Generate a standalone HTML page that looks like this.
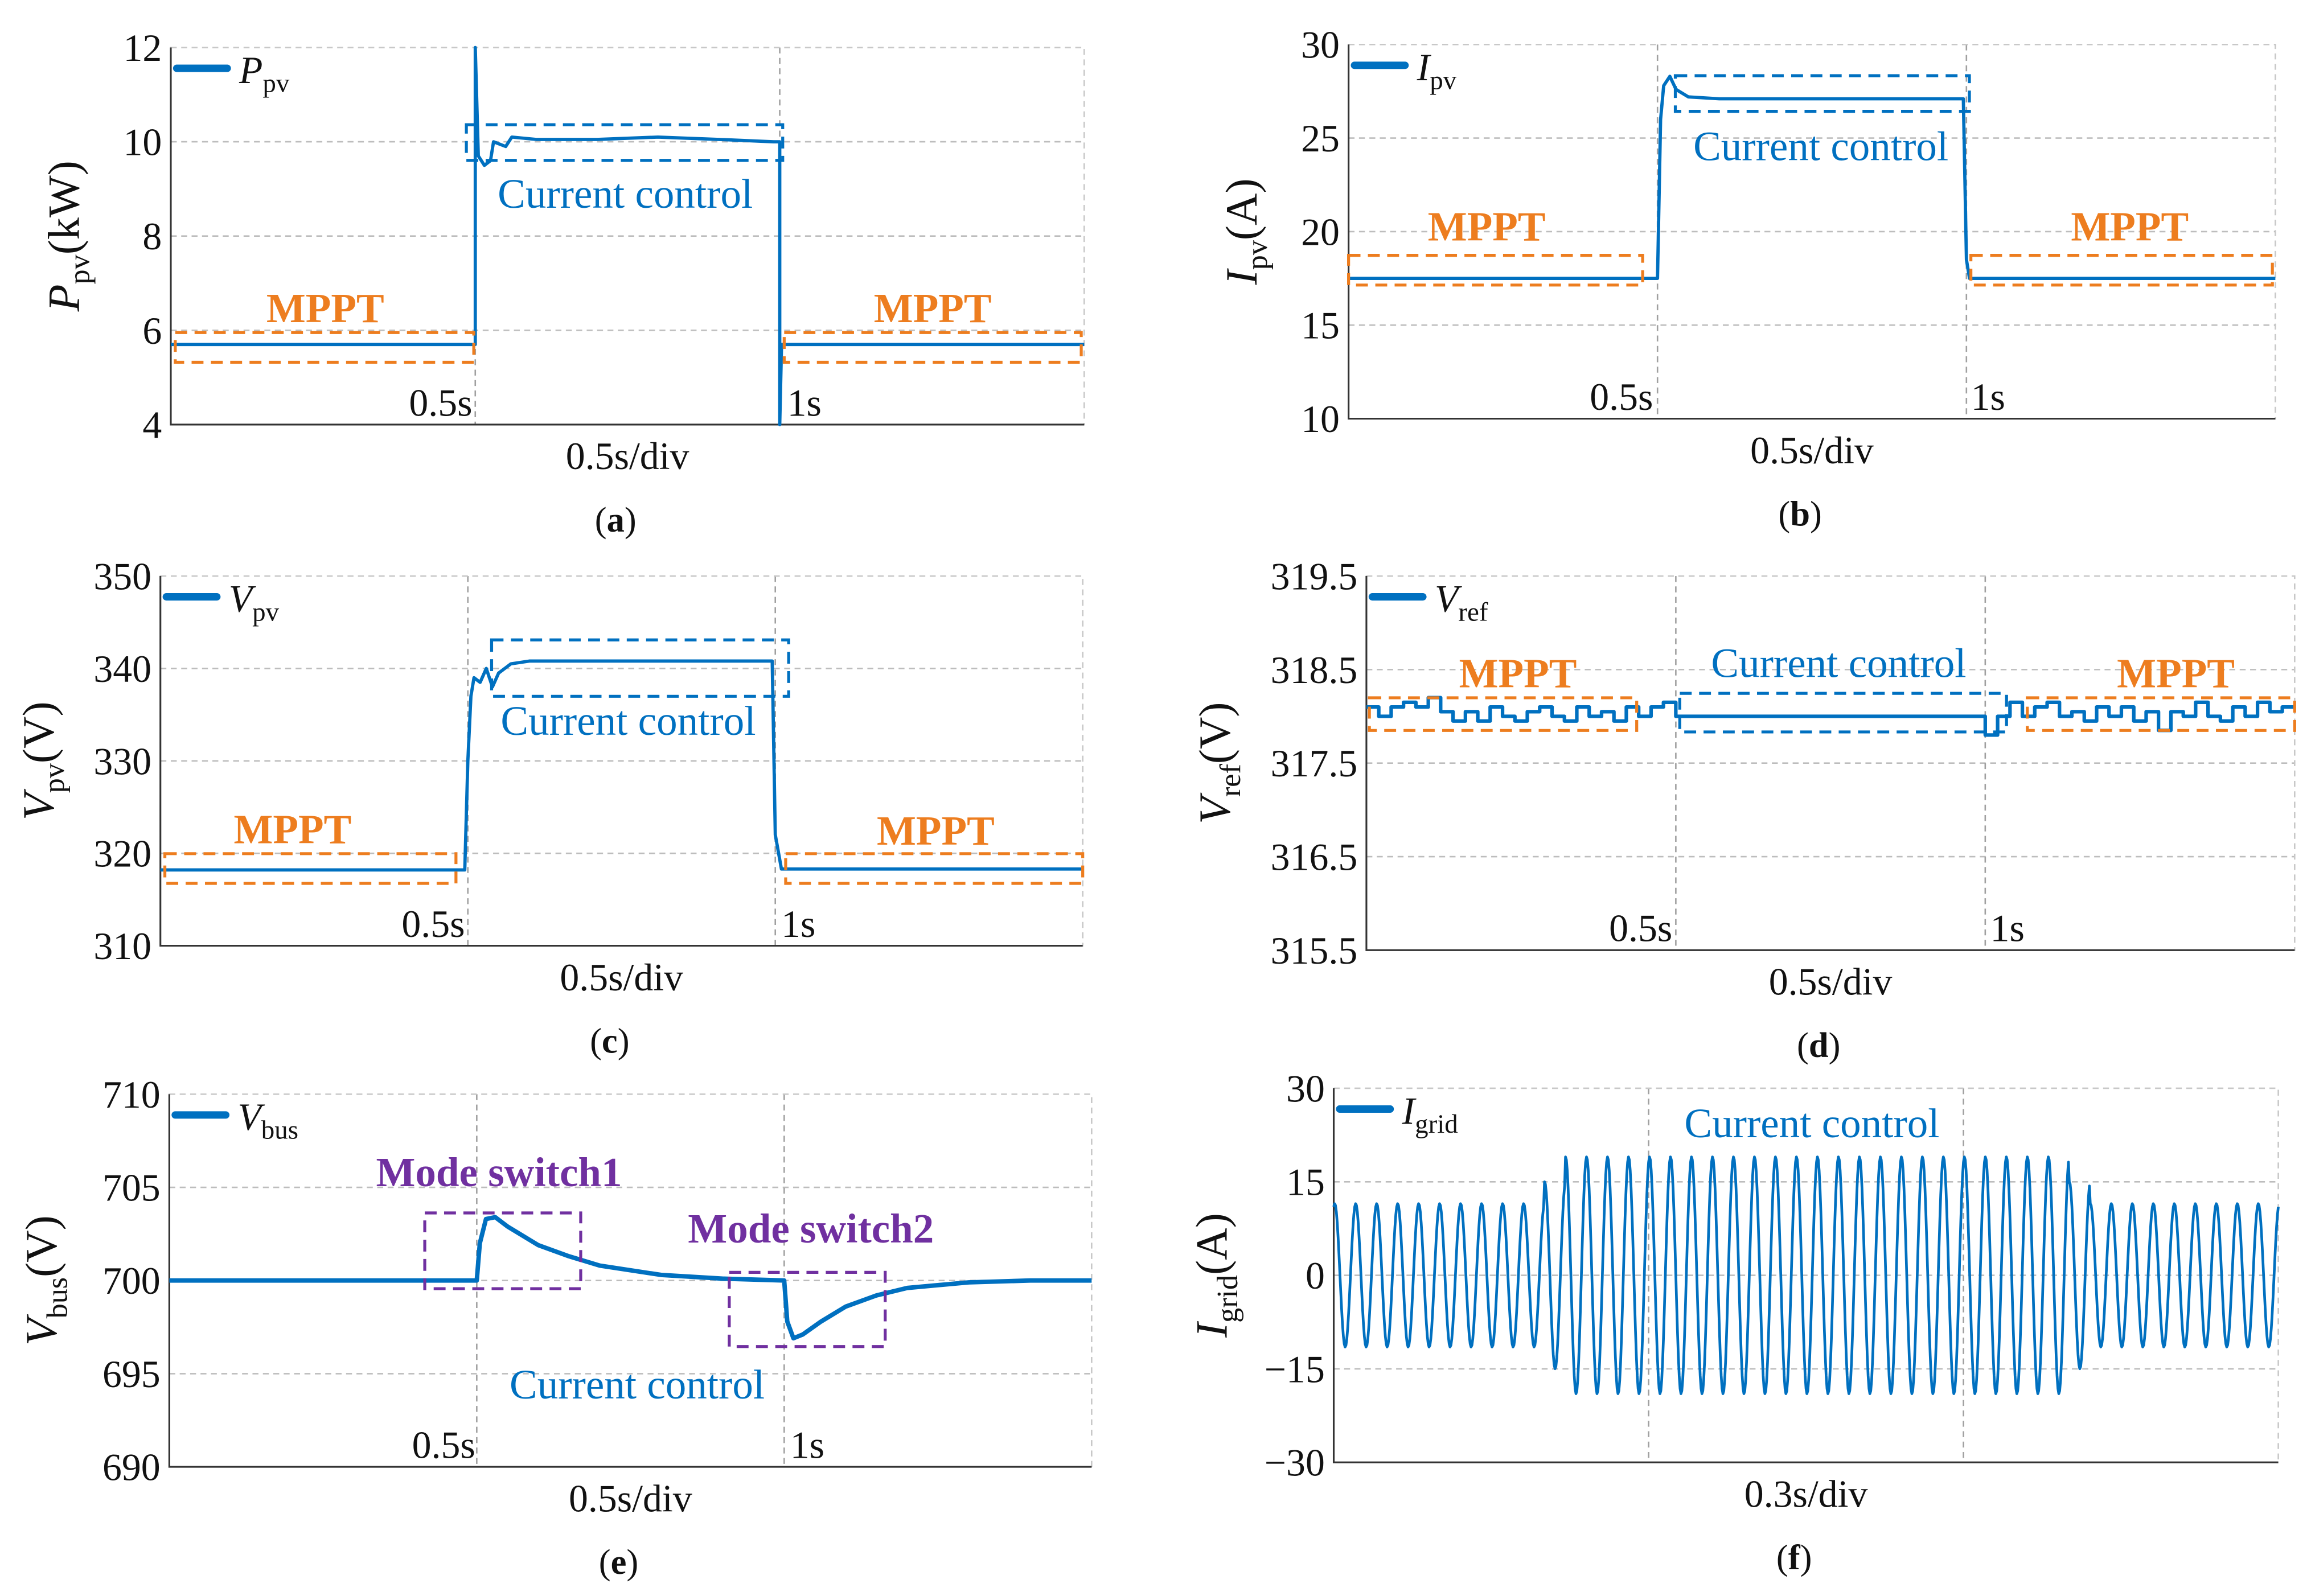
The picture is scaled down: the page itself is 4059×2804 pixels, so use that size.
<!DOCTYPE html>
<html><head><meta charset="utf-8"><style>
html,body{margin:0;padding:0;background:#fff;}
svg{display:block;font-family:"Liberation Serif",serif;}
</style></head><body>
<svg id="fig" width="4059" height="2804" viewBox="0 0 1556 1075" preserveAspectRatio="none" xmlns="http://www.w3.org/2000/svg"></svg>
<script>
// ---- data arrays ----
const aT=[0,0.5,0.5,0.505,0.515,0.525,0.53,0.55,0.56,0.6,0.7,0.8,0.9,0.99,1.0,1.0,1.003,1.5];
const aV=[5.7,5.7,12,9.7,9.5,9.6,10,9.9,10.1,10.05,10.05,10.1,10.05,10,10,4,5.7,5.7];
const bT=[0,0.5,0.505,0.51,0.52,0.53,0.55,0.6,0.8,0.995,1.0,1.005,1.5];
const bV=[17.5,17.5,26,27.8,28.3,27.6,27.2,27.1,27.1,27.1,18.5,17.5,17.5];
const cT=[0,0.495,0.5,0.505,0.51,0.52,0.53,0.54,0.55,0.57,0.6,0.8,0.995,1.0,1.01,1.5];
const cV=[318.2,318.2,330,337,339,338.5,340,338,339.5,340.5,340.8,340.8,340.8,322,318.3,318.3];
const dT=[0,0.02,0.04,0.06,0.08,0.1,0.12,0.14,0.16,0.18,0.2,0.22,0.24,0.26,0.28,0.3,0.32,0.34,0.36,0.38,0.4,0.42,0.44,0.46,0.48,0.5,1.0,1.02,1.04,1.06,1.08,1.1,1.12,1.14,1.16,1.18,1.2,1.22,1.24,1.26,1.28,1.3,1.32,1.34,1.36,1.38,1.4,1.42,1.44,1.46,1.48,1.5];
const dV=[318.1,318.0,318.1,318.15,318.1,318.2,318.05,317.95,318.05,317.95,318.1,318.0,317.95,318.05,318.1,318.0,317.95,318.1,318.0,318.05,317.95,318.1,318.0,318.1,318.15,318.0,317.8,318.0,318.15,318.0,318.1,318.15,318.0,318.05,317.95,318.1,318.0,318.1,317.95,318.05,317.85,318.05,318.0,318.15,318.0,317.95,318.1,318.0,318.15,318.05,318.1,318.1];
const eT=[0,0.5,0.505,0.515,0.53,0.55,0.6,0.65,0.7,0.8,0.9,1.0,1.005,1.015,1.03,1.06,1.1,1.15,1.2,1.3,1.4,1.5];
const eV=[700,700,702,703.3,703.4,702.9,701.9,701.3,700.8,700.3,700.1,700,697.8,696.9,697.1,697.8,698.6,699.2,699.6,699.9,700,700];
const fAmp=[11.5,11.5,11.5,11.5,11.5,11.5,11.5,11.5,11.5,11.5,15,19,19,19,19,19,19,19,19,19,19,19,19,19,19,19,19,19,19,19,19,19,19,19,19,15,11.5,11.5,11.5,11.5,11.5,11.5,11.5,11.5,11.5];

const svg=document.getElementById('fig');
const NS='http://www.w3.org/2000/svg';
const BLUE='#0070c0',OR='#ed7d1f',PUR='#7030a0';
function el(tag,attrs,parent){const e=document.createElementNS(NS,tag);for(const k in attrs)e.setAttribute(k,attrs[k]);(parent||svg).appendChild(e);return e;}
function txt(x,y,s,size,attrs,parent){const t=el('text',Object.assign({x:x,y:y,'font-size':size},attrs||{}),parent);t.textContent=s;return t;}

function panel(c){
  const g=el('g',{});
  
  
  const X=t=>c.x0+(t-c.tmin)/(c.tmax-c.tmin)*(c.x1-c.x0);
  const Y=v=>c.y1-(v-c.ymin)/(c.ymax-c.ymin)*(c.y1-c.y0);
  c.yticks.forEach((v,i)=>{
    const y=Y(v);
    if(i>0&&i<c.yticks.length-1){const l=el('line',{x1:c.x0,x2:c.x1,y1:y,y2:y,stroke:'#bdbdbd','stroke-width':1,'stroke-dasharray':'4,3'},g);}
    const t=txt(c.x0-6,y+9,c.ylabels[i],26,{'text-anchor':'end',fill:'#111'},g);
    
  });
  c.xgrid.forEach(tv=>{const x=X(tv);const l=el('line',{x1:x,x2:x,y1:c.y0,y2:c.y1,stroke:'#a0a0a0','stroke-width':1,'stroke-dasharray':'4,3'},g);});
  el('rect',{x:c.x0,y:c.y0,width:c.x1-c.x0,height:c.y1-c.y0,fill:'none',stroke:'#c8c8c8','stroke-width':1,'stroke-dasharray':'4,3'},g);
  const ax=el('path',{d:`M${c.x0},${c.y0}V${c.y1}H${c.x1}`,fill:'none',stroke:'#333','stroke-width':1.2},g);
  
  let d='';
  if(c.pts){c.pts.forEach((p,i)=>{d+=(i?'L':'M')+X(p[0]).toFixed(2)+','+Y(p[1]).toFixed(2);});}
  const s=el('path',{d:d||c.d(X,Y),fill:'none',stroke:BLUE,'stroke-width':c.sw||2.2,'stroke-linejoin':'round'},g);
  
  const lg=el('g',{},g);
  el('line',{x1:c.x0+4,x2:c.x0+38,y1:c.y0+14,y2:c.y0+14,stroke:BLUE,'stroke-width':5,'stroke-linecap':'round'},lg);
  const lt=el('text',{x:c.x0+46,y:c.y0+24,'font-size':26,'font-style':'italic',fill:'#111'},lg);
  lt.innerHTML=`${c.sym}<tspan font-style="normal" font-size="18" dy="6">${c.sub}</tspan>`;
  const cy=(c.y0+c.y1)/2,lx=c.x0-(c.lo||62);
  const yl=el('text',{x:0,y:0,'font-size':30,'text-anchor':'middle',transform:`translate(${lx},${cy}) rotate(-90)`,fill:'#111'},g);
  yl.innerHTML=`<tspan font-style="italic">${c.sym}</tspan><tspan font-size="20" dy="7">${c.sub}</tspan><tspan dy="-7">(${c.unit})</tspan>`;
  
  c.xl.forEach(o=>{const t=txt(o[0],c.y1-6,o[1],26,{'text-anchor':o[2],fill:'#111'},g);});
  const xt=txt((c.x0+c.x1)/2,c.y1+30,c.div,26,{'text-anchor':'middle',fill:'#111'},g);
  
  const cap=el('text',{x:(c.x0+c.x1)/2-8,y:c.y1+72,'font-size':24,'text-anchor':'middle',fill:'#111'},g);
  cap.innerHTML=`(<tspan font-weight="bold">${c.cap}</tspan>)`;
  
  (c.boxes||[]).forEach(b=>{const r=el('rect',{x:b[0],y:b[1],width:b[2],height:b[3],fill:'none',stroke:b[4],'stroke-width':2,'stroke-dasharray':'8,5'},g);});
  (c.notes||[]).forEach(n=>{const t=txt(n[0],n[1],n[2],28,{'text-anchor':'middle',fill:n[3],'font-weight':n[4]||'normal'},g);});
  return c;
}
const zip=(t,v)=>t.map((x,i)=>[x,v[i]]);

panel({name:'panel-a-ppv',x0:115,x1:730,y0:32,y1:286,tmin:0,tmax:1.5,ymin:4,ymax:12,yticks:[4,6,8,10,12],ylabels:['4','6','8','10','12'],xgrid:[0.5,1.0],pts:zip(aT,aV),sym:'P',sub:'pv',unit:'kW',cap:'a',div:'0.5s/div',
  xl:[[318,'0.5s','end'],[530,'1s','start']],
  boxes:[[118,224,201,20,OR],[528,224,200,20,OR],[314,84,213,24,BLUE]],
  notes:[[219,217,'MPPT',OR,'bold'],[628,217,'MPPT',OR,'bold'],[421,140,'Current control',BLUE]]});
panel({name:'panel-b-ipv',x0:908,x1:1532,y0:30,y1:282,tmin:0,tmax:1.5,ymin:10,ymax:30,yticks:[10,15,20,25,30],ylabels:['10','15','20','25','30'],xgrid:[0.5,1.0],pts:zip(bT,bV),sym:'I',sub:'pv',unit:'A',cap:'b',div:'0.5s/div',
  xl:[[1113,'0.5s','end'],[1327,'1s','start']],
  boxes:[[908,172,198,20,OR],[1327,172,203,20,OR],[1128,51,198,24,BLUE]],
  notes:[[1001,162,'MPPT',OR,'bold'],[1434,162,'MPPT',OR,'bold'],[1226,108,'Current control',BLUE]]});
panel({name:'panel-c-vpv',x0:108,x1:729,y0:388,y1:637,tmin:0,tmax:1.5,ymin:310,ymax:350,yticks:[310,320,330,340,350],ylabels:['310','320','330','340','350'],xgrid:[0.5,1.0],pts:zip(cT,cV),sym:'V',sub:'pv',unit:'V',cap:'c',div:'0.5s/div',lo:72,
  xl:[[313,'0.5s','end'],[526,'1s','start']],
  boxes:[[111,575,196,20,OR],[529,575,200,20,OR],[331,431,200,38,BLUE]],
  notes:[[197,568,'MPPT',OR,'bold'],[630,569,'MPPT',OR,'bold'],[423,495,'Current control',BLUE]]});
panel({name:'panel-d-vref',x0:920,x1:1545,y0:388,y1:640,tmin:0,tmax:1.5,ymin:315.5,ymax:319.5,yticks:[315.5,316.5,317.5,318.5,319.5],ylabels:['315.5','316.5','317.5','318.5','319.5'],xgrid:[0.5,1.0],sw:2.4,lo:92,
  d:(X,Y)=>{let s='';dT.forEach((t,i)=>{s+=(i?'H'+X(t).toFixed(2)+'V':'M'+X(t).toFixed(2)+',')+Y(dV[i]).toFixed(2);});return s;},
  sym:'V',sub:'ref',unit:'V',cap:'d',div:'0.5s/div',
  xl:[[1126,'0.5s','end'],[1340,'1s','start']],
  boxes:[[922,470,180,22,OR],[1365,470,180,22,OR],[1131,467,220,26,BLUE]],
  notes:[[1022,463,'MPPT',OR,'bold'],[1465,463,'MPPT',OR,'bold'],[1238,456,'Current control',BLUE]]});
panel({name:'panel-e-vbus',x0:114,x1:735,y0:737,y1:988,tmin:0,tmax:1.5,ymin:690,ymax:710,yticks:[690,695,700,705,710],ylabels:['690','695','700','705','710'],xgrid:[0.5,1.0],sw:3,pts:zip(eT,eV),sym:'V',sub:'bus',unit:'V',cap:'e',div:'0.5s/div',lo:76,
  xl:[[320,'0.5s','end'],[532,'1s','start']],
  boxes:[[286,817,105,51,PUR],[491,857,105,50,PUR]],
  notes:[[336,799,'Mode switch1',PUR,'bold'],[546,837,'Mode switch2',PUR,'bold'],[429,942,'Current control',BLUE]]});
panel({name:'panel-f-igrid',x0:898,x1:1534,y0:733,y1:985,tmin:0,tmax:0.9,ymin:-30,ymax:30,yticks:[-30,-15,0,15,30],ylabels:['\u221230','\u221215','0','15','30'],xgrid:[0.3,0.6],sw:1.8,lo:72,
  d:(X,Y)=>{const n=fAmp.length,T=0.9/n;let s='';for(let i=0;i<n;i++){for(let k=0;k<=24;k++){if(i>0&&k===0)continue;const t=i*T+k*T/24;const v=fAmp[i]*Math.cos(2*Math.PI*(k/24)-0.3);s+=(s?'L':'M')+X(t).toFixed(2)+','+Y(v).toFixed(2);}}return s;},
  sym:'I',sub:'grid',unit:'A',cap:'f',div:'0.3s/div',xl:[],
  notes:[[1220,766,'Current control',BLUE]]});
</script>
</body></html>
